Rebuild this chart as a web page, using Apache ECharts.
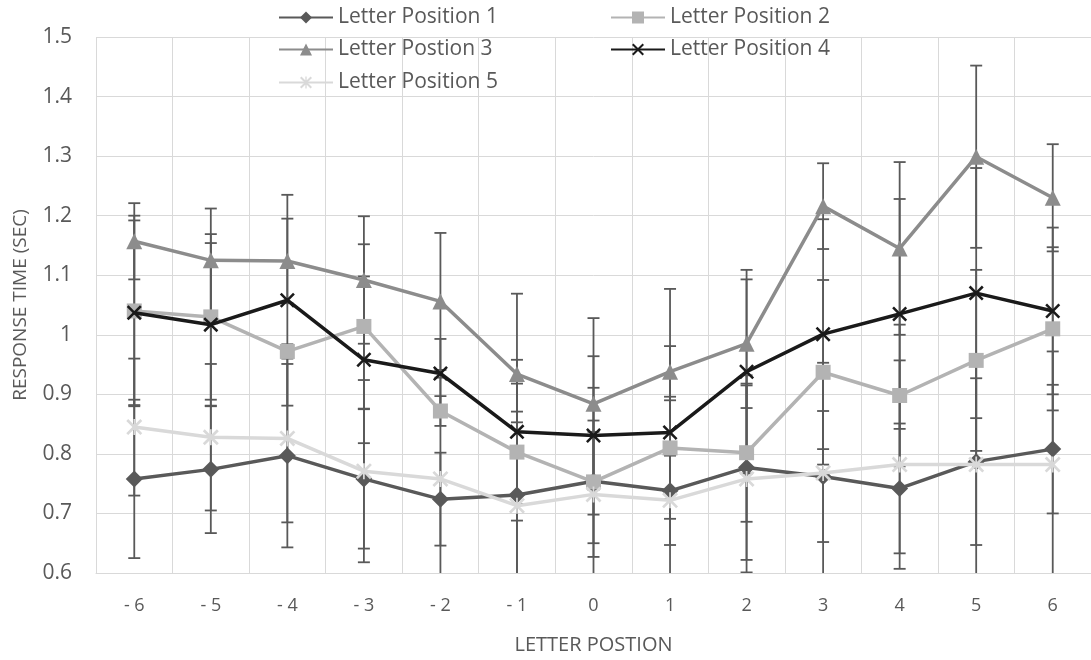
<!DOCTYPE html>
<html>
<head>
<meta charset="utf-8">
<script src="https://cdn.jsdelivr.net/npm/echarts@6/dist/echarts.min.js"></script>
<style>
html,body{margin:0;padding:0;background:#fff;}
#chart{width:1091px;height:660px;}
</style>
</head>
<body>
<div id="chart"></div>
<script>
const categories = ['- 6','- 5','- 4','- 3','- 2','- 1','0','1','2','3','4','5','6'];
const seriesNames = ['Letter Position 1','Letter Position 2','Letter Postion 3','Letter Position 4','Letter Position 5'];
const yTicks = [0.6,0.7,0.8,0.9,1.0,1.1,1.2,1.3,1.4,1.5];

const pos1 = [0.758,0.774,0.797,0.758,0.724,0.731,0.754,0.738,0.777,0.762,0.742,0.787,0.808];
const err1 = [0.133,0.107,0.154,0.117,0.078,0.140,0.157,0.152,0.155,0.110,0.109,0.140,0.108];
const pos2 = [1.040,1.030,0.972,1.014,0.872,0.803,0.753,0.810,0.802,0.937,0.898,0.957,1.010];
const err2 = [0.160,0.139,0.012,0.138,0.025,0.115,0.103,0.086,0.116,0.155,0.119,0.152,0.137];
const pos3 = [1.157,1.125,1.124,1.092,1.056,0.934,0.884,0.938,0.985,1.216,1.145,1.299,1.230];
const err3 = [0.064,0.087,0.071,0.107,0.115,0.135,0.144,0.139,0.108,0.072,0.145,0.153,0.090];
const pos4 = [1.037,1.017,1.058,0.958,0.935,0.837,0.831,0.836,0.938,1.001,1.035,1.070,1.040];
const err4 = [0.155,0.137,0.177,0.140,0.058,0.121,0.133,0.145,0.171,0.193,0.193,0.210,0.140];
const pos5 = [0.845,0.828,0.826,0.771,0.758,0.713,0.732,0.722,0.758,0.768,0.782,0.782,0.782];
const err5 = [0.115,0.123,0.141,0.153,0.170,0.140,0.105,0.075,0.157,0.185,0.175,0.185,0.190];

const means = [pos1,pos2,pos3,pos4,pos5];
const errs = [err1,err2,err3,err4,err5];
const colors = ['#595959','#b3b3b3','#8c8c8c','#1a1a1a','#d9d9d9'];
const xPath = 'path://M0,1.2L1.2,0L5,3.8L8.8,0L10,1.2L6.2,5L10,8.8L8.8,10L5,6.2L1.2,10L0,8.8L3.8,5Z';
const starPath = 'path://M0,1.2L1.2,0L5,3.8L8.8,0L10,1.2L6.2,5L10,8.8L8.8,10L5,6.2L1.2,10L0,8.8L3.8,5Z M4.45,0L5.55,0L5.55,10L4.45,10Z';
const symbols = ['diamond','rect','triangle',xPath,starPath];
const symSizes = [17,15,16,15,16];

const FONT = 'Open Sans';
const textColor = '#595959';

const series = [];
// error bars
means.forEach((m, si) => {
  series.push({
    type: 'custom',
    name: seriesNames[si] + ' err',
    clip: true,
    z: 1,
    silent: true,
    data: m.map((v, i) => [i, v - errs[si][i], v + errs[si][i]]),
    renderItem: function (params, api) {
      const lo = api.coord([api.value(0), api.value(1)]);
      const hi = api.coord([api.value(0), api.value(2)]);
      const half = 6;
      const st = {stroke: '#595959', lineWidth: 1.8};
      return {
        type: 'group',
        children: [
          {type: 'line', shape: {x1: lo[0], y1: lo[1], x2: hi[0], y2: hi[1]}, style: st},
          {type: 'line', shape: {x1: lo[0]-half, y1: lo[1], x2: lo[0]+half, y2: lo[1]}, style: st},
          {type: 'line', shape: {x1: hi[0]-half, y1: hi[1], x2: hi[0]+half, y2: hi[1]}, style: st}
        ]
      };
    }
  });
});
// lines
means.forEach((m, si) => {
  series.push({
    type: 'line',
    name: seriesNames[si],
    data: m,
    z: 3 + si,
    symbol: symbols[si],
    symbolSize: symSizes[si],
    showAllSymbol: true,
    lineStyle: {color: colors[si], width: 3.5},
    itemStyle: {color: colors[si], borderWidth: 0},
    emphasis: {disabled: true}
  });
});

const legendPos = [[273, 2], [605, 2], [273, 34], [605, 34], [273, 67]];
const legends = seriesNames.map((n, i) => ({
  data: [n],
  left: legendPos[i][0],
  top: legendPos[i][1],
  itemWidth: 54,
  itemHeight: 15,
  selectedMode: false,
  textStyle: {fontFamily: FONT, fontSize: 21, color: textColor}
}));

const chart = echarts.init(document.getElementById('chart'), null, {renderer: 'canvas'});
chart.setOption({
  animation: false,
  backgroundColor: '#fff',
  grid: {left: 96, top: 37, width: 1000, height: 546},
  legend: legends,
  xAxis: {
    type: 'category',
    data: categories,
    boundaryGap: true,
    name: 'LETTER POSTION',
    nameLocation: 'middle',
    nameGap: 62,
    nameTextStyle: {fontFamily: FONT, fontSize: 20, color: textColor},
    axisLine: {show: true, lineStyle: {color: '#d9d9d9', width: 1}},
    axisTick: {show: false},
    axisLabel: {fontFamily: FONT, fontSize: 18, color: textColor, margin: 24},
    splitLine: {show: true, interval: 0, lineStyle: {color: '#d9d9d9', width: 1}}
  },
  yAxis: {
    type: 'value',
    min: yTicks[0],
    max: yTicks[yTicks.length - 1],
    interval: 0.1,
    name: 'RESPONSE TIME (SEC)',
    nameLocation: 'middle',
    nameGap: 66,
    nameTextStyle: {fontFamily: FONT, fontSize: 19, color: textColor},
    axisLine: {show: false},
    axisTick: {show: false},
    axisLabel: {fontFamily: FONT, fontSize: 21, color: textColor, margin: 24,
      formatter: v => String(parseFloat(v.toFixed(2)))},
    splitLine: {show: true, lineStyle: {color: '#d9d9d9', width: 1}}
  },
  series: series
});
</script>
</body>
</html>
